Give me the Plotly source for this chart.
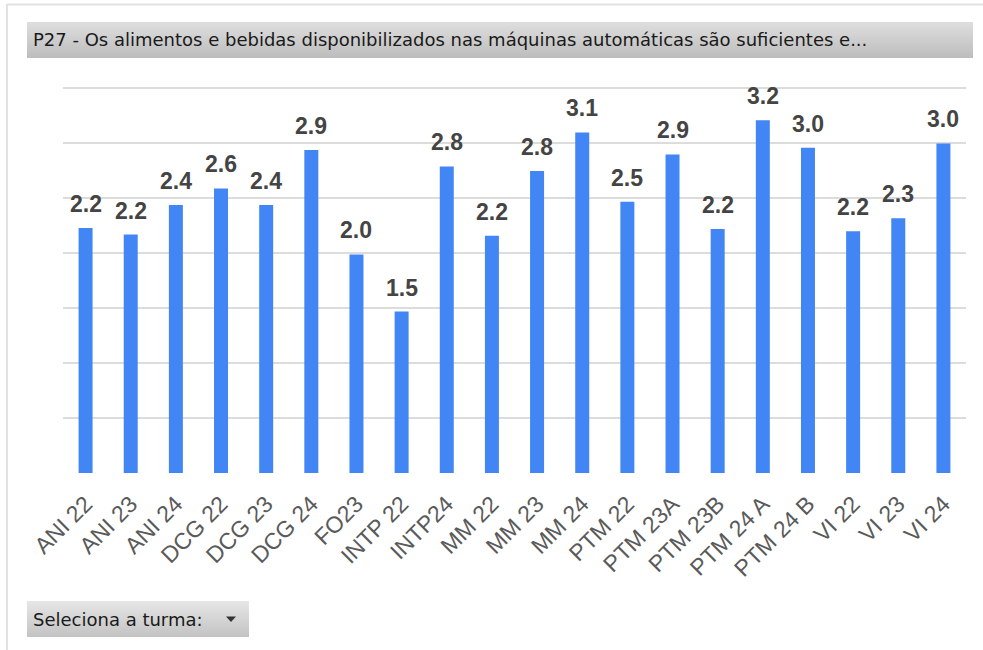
import plotly.graph_objects as go

# Survey results per class (average score)
turmas = ["ANI 22", "ANI 23", "ANI 24", "DCG 22", "DCG 23", "DCG 24", "FO23",
          "INTP 22", "INTP24", "MM 22", "MM 23", "MM 24", "PTM 22", "PTM 23A",
          "PTM 23B", "PTM 24 A", "PTM 24 B", "VI 22", "VI 23", "VI 24"]
medias = [2.23, 2.17, 2.44, 2.59, 2.44, 2.94, 1.99, 1.47, 2.79, 2.16,
          2.75, 3.10, 2.47, 2.90, 2.22, 3.21, 2.96, 2.20, 2.32, 3.00]

titulo = "P27 - Os alimentos e bebidas disponibilizados nas máquinas automáticas são suficientes e..."
filtro = "Seleciona a turma:"

Y_TOP = 3.55
W, H = 983, 650
ML, MR, MT, MB = 63, 17, 83, 177
PW, PH = W - ML - MR, H - MT - MB


def px(x):
    return (x - ML) / PW


def py(y):
    return (H - MB - y) / PH


def hexmix(c1, c2, t):
    a = [int(c1[i:i + 2], 16) for i in (1, 3, 5)]
    b = [int(c2[i:i + 2], 16) for i in (1, 3, 5)]
    return "#" + "".join(f"{round(a[k] + (b[k] - a[k]) * t):02x}" for k in range(3))


def gradient_box(x0, y0, x1, y1, top, bottom):
    shapes = []
    n = int(round(y1 - y0))
    for i in range(n):
        shapes.append(dict(type="rect", xref="paper", yref="paper",
                           x0=px(x0), x1=px(x1), y0=py(y0 + i), y1=py(y0 + i + 1.05),
                           fillcolor=hexmix(top, bottom, i / max(n - 1, 1)),
                           line=dict(width=0)))
    return shapes


fig = go.Figure()
fig.add_trace(go.Bar(x=turmas, y=medias, width=0.31, marker=dict(color="#4285f4", line=dict(width=0)),
                     hoverinfo="skip"))

annotations = []
for t, v in zip(turmas, medias):
    annotations.append(dict(x=t, y=v, xref="x", yref="y", text=f"<b>{v:.1f}</b>", showarrow=False,
                            yanchor="bottom", yshift=9,
                            font=dict(family="Liberation Sans, Arial", size=23, color="#444444")))

shapes = []
# outer frame
shapes.append(dict(type="line", xref="paper", yref="paper", x0=px(7), x1=px(983), y0=py(4.5), y1=py(4.5),
                   line=dict(color="#e2e2e2", width=2)))
shapes.append(dict(type="line", xref="paper", yref="paper", x0=px(7), x1=px(7), y0=py(4), y1=py(650),
                   line=dict(color="#e2e2e2", width=2)))
# title bar and filter box
shapes += gradient_box(27, 22, 973, 58, "#dedede", "#bdbdbd")
shapes += gradient_box(27, 601, 249, 637, "#e6e6e6", "#c3c3c3")
# dropdown arrow
shapes.append(dict(type="path", xref="paper", yref="paper",
                   path=f"M {px(226)} {py(616.5)} L {px(236)} {py(616.5)} L {px(231)} {py(622)} Z",
                   fillcolor="#333333", line=dict(width=0)))

annotations.append(dict(x=px(31), y=py(40), xref="paper", yref="paper", text=titulo, showarrow=False,
                        xanchor="left", yanchor="middle",
                        font=dict(family="DejaVu Sans", size=18, color="#1a1a1a")))
annotations.append(dict(x=px(31), y=py(619), xref="paper", yref="paper", text=filtro, showarrow=False,
                        xanchor="left", yanchor="middle",
                        font=dict(family="DejaVu Sans", size=18, color="#1a1a1a")))

fig.update_layout(
    width=W, height=H, margin=dict(l=ML, r=MR, t=MT, b=MB),
    paper_bgcolor="white", plot_bgcolor="white", showlegend=False,
    shapes=shapes, annotations=annotations,
    xaxis=dict(tickangle=-45, automargin=False, showgrid=False, zeroline=False, ticks="",
               ticklabelstandoff=12,
               tickfont=dict(family="Liberation Sans, Arial", size=23, color="#5a5a5a")),
    yaxis=dict(range=[0, Y_TOP], tickvals=[0, 0.5, 1, 1.5, 2, 2.5, 3, 3.5], showticklabels=False,
               automargin=False, gridcolor="#dcdcdc", gridwidth=2, zeroline=False),
)

fig.write_html("out.html")
